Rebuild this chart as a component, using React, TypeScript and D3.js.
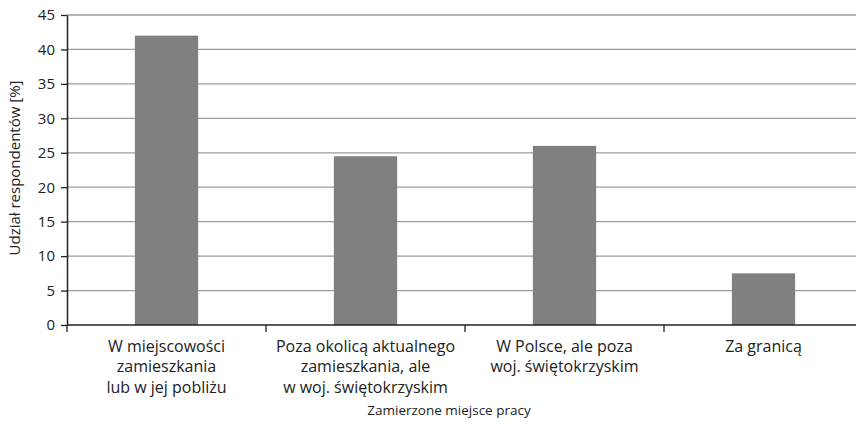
import { useEffect, useRef } from "react";
import * as d3 from "d3";

// categories (x) and values (%)
const categories = [
  ["W miejscowości", "zamieszkania", "lub w jej pobliżu"],
  ["Poza okolicą aktualnego", "zamieszkania, ale", "w woj. świętokrzyskim"],
  ["W Polsce, ale poza", "woj. świętokrzyskim"],
  ["Za granicą"],
];
const values = [42, 24.5, 26, 7.5];
const yTicks = [0, 5, 10, 15, 20, 25, 30, 35, 40, 45];
const xTitle = "Zamierzone miejsce pracy";
const yTitle = "Udział respondentów [%]";

const W = 856;
const H = 424;
const margin = { top: 15, left: 67, bottom: 99, right: -7 };
const font = "'Open Sans', sans-serif";

export default function App() {
  const gRef = useRef<SVGGElement>(null);

  useEffect(() => {
    const g = d3.select(gRef.current);
    const width = W - margin.left - margin.right;
    const height = H - margin.top - margin.bottom;

    const keys = categories.map((_, i) => String(i));
    const x = d3.scaleBand().domain(keys).range([0, width]);
    const y = d3.scaleLinear().domain([0, 45]).range([height, 0]);

    // grid
    g.append("g")
      .selectAll("line")
      .data(yTicks.filter((t) => t > 0))
      .join("line")
      .attr("x1", 0)
      .attr("x2", width)
      .attr("y1", (d) => y(d))
      .attr("y2", (d) => y(d))
      .attr("stroke", "#9c9c9c")
      .attr("stroke-width", 1.3);

    // bars
    const barW = x.bandwidth() * 0.318;
    g.append("g")
      .selectAll("rect")
      .data(values)
      .join("rect")
      .attr("x", (_, i) => x(String(i))! + (x.bandwidth() - barW) / 2)
      .attr("y", (d) => y(d))
      .attr("width", barW)
      .attr("height", (d) => height - y(d))
      .attr("fill", "#808083");

    // y axis
    const yAxis = g.append("g").call(d3.axisLeft(y).tickValues(yTicks).tickSize(6).tickSizeOuter(0));
    yAxis.select(".domain").attr("stroke", "#222").attr("stroke-width", 1.5);
    yAxis.selectAll(".tick line").attr("stroke", "#222").attr("stroke-width", 1.3);
    yAxis
      .selectAll(".tick text")
      .attr("font-family", font)
      .attr("font-size", 15)
      .attr("fill", "#222")
      .attr("x", -12);

    // x axis
    const xa = g.append("g").attr("transform", `translate(0,${height})`);
    xa.append("line")
      .attr("x1", 0)
      .attr("x2", width)
      .attr("stroke", "#222")
      .attr("stroke-width", 1.5);
    xa.selectAll(".tk")
      .data(keys)
      .join("line")
      .attr("class", "tk")
      .attr("x1", (d) => x(d)!)
      .attr("x2", (d) => x(d)!)
      .attr("y1", 0)
      .attr("y2", 7)
      .attr("stroke", "#222")
      .attr("stroke-width", 1.3);

    const lbl = xa
      .selectAll(".lbl")
      .data(categories)
      .join("text")
      .attr("class", "lbl")
      .attr("text-anchor", "middle")
      .attr("font-family", font)
      .attr("font-size", 16)
      .attr("fill", "#222");
    lbl
      .selectAll("tspan")
      .data((d, i) => d.map((t) => ({ t, i })))
      .join("tspan")
      .attr("x", (d) => x(String(d.i))! + x.bandwidth() / 2)
      .attr("y", (_, j) => 27 + j * 20.3)
      .text((d) => d.t);

    // axis titles
    g.append("text")
      .attr("x", 449 - margin.left)
      .attr("y", 415 - margin.top)
      .attr("text-anchor", "middle")
      .attr("font-family", font)
      .attr("font-size", 13.5)
      .attr("fill", "#222")
      .text(xTitle);

    g.append("text")
      .attr("transform", `translate(${20 - margin.left},${168 - margin.top}) rotate(-90)`)
      .attr("text-anchor", "middle")
      .attr("font-family", font)
      .attr("font-size", 15)
      .attr("fill", "#222")
      .text(yTitle);

    return () => {
      g.selectAll("*").remove();
    };
  }, []);

  return (
    <div style={{ position: "absolute", left: 0, top: 0 }}>
      <svg width={W} height={H} style={{ display: "block", background: "#fff" }}>
        <g ref={gRef} transform={`translate(${margin.left},${margin.top})`}></g>
      </svg>
    </div>
  );
}
